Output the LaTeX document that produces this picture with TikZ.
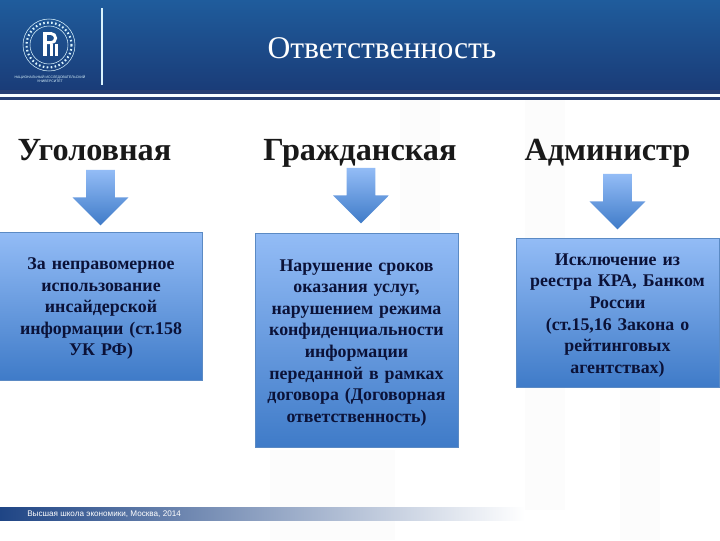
\documentclass[tikz,border=0pt]{standalone}
\usepackage{fontspec}
\setmainfont{Liberation Serif}
\newfontfamily\footfont{Liberation Sans}
\usetikzlibrary{shapes.arrows}
\definecolor{headtop}{HTML}{1F5C9C}
\definecolor{headlow}{HTML}{1A3C78}
\definecolor{headline}{HTML}{2B3F73}
\definecolor{boxtop}{HTML}{93BCF6}
\definecolor{boxlow}{HTML}{3F7BC8}
\definecolor{boxedge}{HTML}{5B8AC4}
\definecolor{boxink}{HTML}{0B1238}
\definecolor{footleft}{HTML}{1F4585}
\definecolor{markcol}{HTML}{FCFCFC}
\tikzset{
  infobox/.style={rectangle, draw=boxedge, line width=0.5pt, top color=boxtop, bottom color=boxlow,
    inner sep=0pt, minimum width=152pt, text width=152pt, align=center, text=boxink,
    font=\fontsize{13.4}{16.2}\selectfont\bfseries, execute at begin node=\rule{0pt}{13pt}},
  headword/.style={anchor=base, inner sep=0pt, text=black!90, font=\fontsize{24.2}{28}\selectfont\bfseries},
  downarrow/.style={single arrow, shape border rotate=270, draw=none, top color=boxtop, bottom color=boxlow,
    text width=21pt, minimum height=41.5pt, minimum width=41.5pt, single arrow head extend=10.2pt,
    single arrow head indent=0pt, inner sep=0pt},
  logotext/.style={inner sep=0pt, text=white!85!cyan, font=\footfont\fontsize{2.6}{3}\selectfont}
}
\begin{document}
\begin{tikzpicture}[x=0.75pt,y=-0.75pt]
\useasboundingbox (0,0) rectangle (720,540);
\fill[white] (0,0) rectangle (720,540);
\fill[markcol] (525,100) rectangle (565,510);
\fill[markcol] (400,100) rectangle (440,230);
\fill[markcol] (620,390) rectangle (660,540);
\fill[markcol] (270,450) rectangle (395,540);

% header
\shade[top color=headtop, bottom color=headlow] (0,0) rectangle (720,90);
\fill[headline] (0,90) rectangle (720,94);
\fill[white] (0,94) rectangle (720,97);
\fill[headline] (0,97) rectangle (720,100);
\draw[white!85!cyan, line width=1pt] (102,8) -- (102,85);
\node[inner sep=0pt, text=white, font=\fontsize{23.7}{28}\selectfont] (title) at (382,48) {Ответственность};

% logo
\draw[white!85!cyan, line width=0.4pt] (49,45) circle (26);
\draw[white!85!cyan, line width=1.6pt, dash pattern=on 1.2pt off 1.8pt] (49,45) circle (22.5);
\draw[white!85!cyan, line width=0.4pt] (49,45) circle (19);
\fill[white] (43,32) rectangle (47,56);
\draw[white, line width=2.2pt] (47,33.5) -- (51,33.5) arc (-90:90:4.6) -- (47,42.7);
\fill[white] (50,44) rectangle (53,56);
\fill[white] (55,44) rectangle (58,56);
\node[logotext] (logoa) at (50,77) {НАЦИОНАЛЬНЫЙ ИССЛЕДОВАТЕЛЬСКИЙ};
\node[logotext] (logob) at (50,81.5) {УНИВЕРСИТЕТ};

% columns
\node[headword] (crim) at (94.5,160) {Уголовная};
\node[headword] (civil) at (360,160) {Гражданская};
\node[headword] (admin) at (607.5,160) {Администр};

\node[downarrow] (crimarrow) at (100.5,190.5) {};
\node[downarrow] (civilarrow) at (361,188.5) {};
\node[downarrow] (adminarrow) at (617.5,194.5) {};

\node[infobox, minimum height=111pt] (crimbox) at (101,306) {За неправомерное\\использование\\инсайдерской\\информации (ст.158\\УК РФ)};
\node[infobox, minimum height=160.5pt] (civilbox) at (356.5,340) {Нарушение сроков\\оказания услуг,\\нарушением режима\\конфиденциальности\\информации\\переданной в рамках\\договора (Договорная\\ответственность)};
\node[infobox, minimum height=111.5pt] (adminbox) at (617.5,312.5) {Исключение из\\реестра КРА, Банком\\России\\(ст.15,16 Закона о\\рейтинговых\\агентствах)};

% footer
\shade[left color=footleft, right color=white] (0,507) rectangle (525,520);
\node[anchor=west, inner sep=0pt, text=white, font=\footfont\fontsize{6.1}{8}\selectfont] (foot) at (27,514) {Высшая школа экономики, Москва, 2014};
\end{tikzpicture}
\end{document}
